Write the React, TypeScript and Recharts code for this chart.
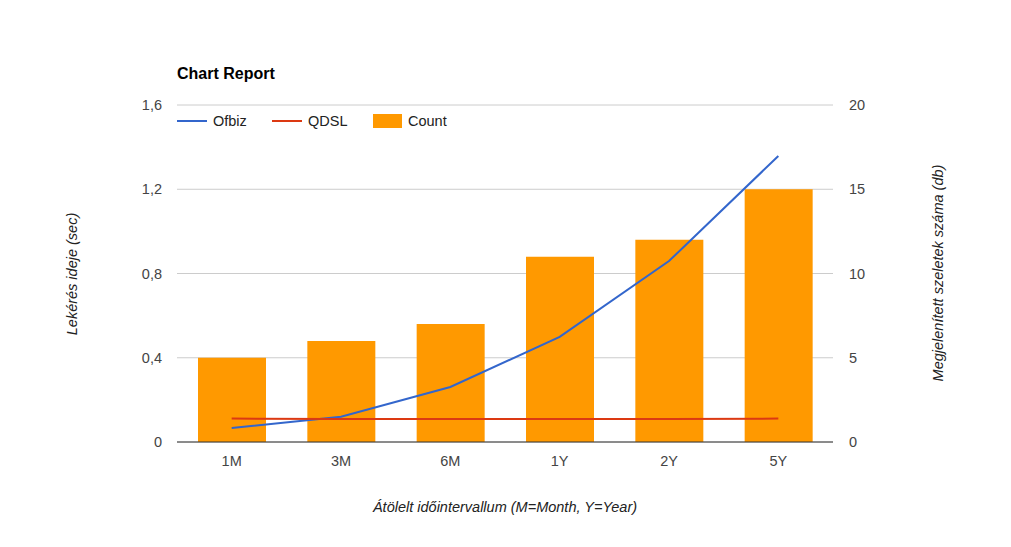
import {
  ComposedChart,
  Bar,
  Line,
  XAxis,
  YAxis,
  CartesianGrid,
  Legend,
} from "recharts";

// intervals on the x axis
const categories = ["1M", "3M", "6M", "1Y", "2Y", "5Y"];
// query time in seconds (left axis)
const ofbizValues = [0.066, 0.12, 0.261, 0.499, 0.859, 1.358];
const qdslValues = [0.111, 0.109, 0.109, 0.109, 0.109, 0.111];
// number of slices shown (right axis)
const countValues = [5, 6, 7, 11, 12, 15];

const leftTicks = [0, 0.4, 0.8, 1.2, 1.6];
const rightTicks = [0, 5, 10, 15, 20];

const chartTitle = "Chart Report";
const leftTitle = "Lekérés ideje (sec)";
const rightTitle = "Megjelenített szeletek száma (db)";
const bottomTitle = "Átölelt időintervallum (M=Month, Y=Year)";

const seriesColors = { Ofbiz: "#3366cc", QDSL: "#dc3912", Count: "#ff9900" };
const font = "'Liberation Sans', Arial, sans-serif";
const fs = 14.5;

const data = categories.map((cat, i) => ({
  name: cat,
  Ofbiz: ofbizValues[i],
  QDSL: qdslValues[i],
  Count: countValues[i],
}));

const LegendContent = () => {
  const items = [
    { name: "Ofbiz", type: "line", w: 95 },
    { name: "QDSL", type: "line", w: 101 },
    { name: "Count", type: "box", w: 100 },
  ];
  return (
    <div style={{ display: "flex", fontFamily: font, fontSize: fs, color: "#222" }}>
      {items.map((it) => (
        <div key={it.name} style={{ display: "flex", alignItems: "center", width: it.w }}>
          {it.type === "line" ? (
            <div style={{ width: 30, height: 2, background: (seriesColors as any)[it.name] }} />
          ) : (
            <div style={{ width: 29, height: 14, background: (seriesColors as any)[it.name] }} />
          )}
          <span style={{ marginLeft: 6 }}>{it.name}</span>
        </div>
      ))}
    </div>
  );
};

const App = () => {
  return (
    <div style={{ position: "absolute", left: 0, top: 0, width: 1011, height: 547, background: "#fff" }}>
      <ComposedChart
        width={1011}
        height={547}
        data={data}
        margin={{ top: 105, right: 0, bottom: 75, left: 0 }}
        style={{ fontFamily: font }}
      >
        <CartesianGrid yAxisId="left" vertical={false} stroke="#cccccc" />
        <XAxis
          dataKey="name"
          height={30}
          tickLine={false}
          axisLine={{ stroke: "#333333" }}
          tick={{ fill: "#444444", fontSize: fs }}
          tickMargin={8}
        />
        <YAxis
          yAxisId="left"
          width={177}
          domain={[0, 1.6]}
          ticks={leftTicks}
          tickFormatter={(v: number) => String(v).replace(".", ",")}
          axisLine={false}
          tickLine={false}
          tick={{ fill: "#444444", fontSize: fs }}
          tickMargin={9}
        />
        <YAxis
          yAxisId="right"
          orientation="right"
          width={178}
          domain={[0, 20]}
          ticks={rightTicks}
          axisLine={false}
          tickLine={false}
          tick={{ fill: "#444444", fontSize: fs, textAnchor: "start" }}
          tickMargin={10}
        />
        <Legend
          layout="vertical"
          align="center"
          verticalAlign="middle"
          content={<LegendContent />}
          wrapperStyle={{ position: "absolute", top: 113, left: 177, width: 400 }}
        />
        <Bar
          yAxisId="right"
          dataKey="Count"
          fill={seriesColors.Count}
          barSize={68}
          isAnimationActive={false}
        />
        <Line
          yAxisId="left"
          type="linear"
          dataKey="Ofbiz"
          stroke={seriesColors.Ofbiz}
          strokeWidth={2}
          dot={false}
          isAnimationActive={false}
        />
        <Line
          yAxisId="left"
          type="linear"
          dataKey="QDSL"
          stroke={seriesColors.QDSL}
          strokeWidth={2}
          dot={false}
          isAnimationActive={false}
        />
      </ComposedChart>
      <svg
        width={1011}
        height={547}
        style={{ position: "absolute", left: 0, top: 0, pointerEvents: "none", fontFamily: font }}
      >
        <text x={177} y={79} fontSize={16} fontWeight="bold" fill="#000">
          {chartTitle}
        </text>
        <text
          x={77}
          y={274}
          fontSize={fs}
          fontStyle="italic"
          fill="#222"
          textAnchor="middle"
          transform="rotate(-90 77 274)"
        >
          {leftTitle}
        </text>
        <text
          x={943}
          y={273}
          fontSize={fs}
          fontStyle="italic"
          fill="#222"
          textAnchor="middle"
          transform="rotate(-90 943 273)"
        >
          {rightTitle}
        </text>
        <text x={505} y={512} fontSize={fs} fontStyle="italic" fill="#222" textAnchor="middle">
          {bottomTitle}
        </text>
      </svg>
    </div>
  );
};

export default App;
